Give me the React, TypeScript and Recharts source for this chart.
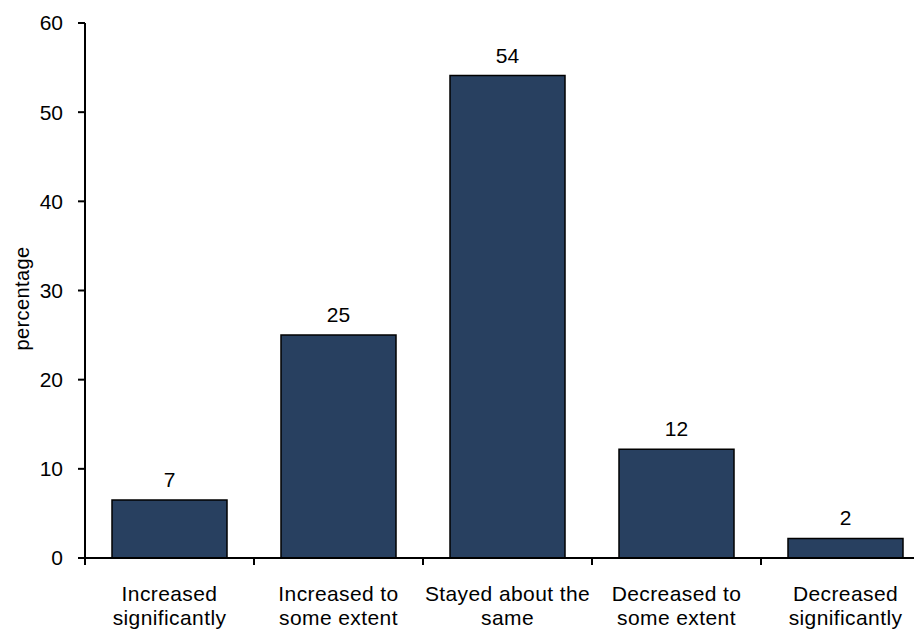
import React from 'react';
import { BarChart, Bar, XAxis, YAxis, LabelList } from 'recharts';

const CATEGORIES = [
  ['Increased', 'significantly'],
  ['Increased to', 'some extent'],
  ['Stayed about the', 'same'],
  ['Decreased to', 'some extent'],
  ['Decreased', 'significantly'],
];
const PERCENTAGES = [6.5, 25, 54.1, 12.2, 2.2];
const Y_TICKS = [0, 10, 20, 30, 40, 50, 60];

const CHART_W = 922;
const CHART_H = 622;
const Y_AXIS_W = 77;
const BAND = (CHART_W - Y_AXIS_W) / CATEGORIES.length;
const FONT = '"Liberation Sans", Arial, sans-serif';

const data = CATEGORIES.map((c, i) => ({ name: c.join('|'), value: PERCENTAGES[i] }));

const CategoryTick = (props: any) => {
  const { x, y, payload } = props;
  const lines = String(payload.value).split('|');
  const left = x - BAND / 2;
  return (
    <g>
      <line x1={left} y1={y} x2={left} y2={y + 7} stroke="#000" strokeWidth={2} />
      <text
        x={x}
        y={y + 43}
        textAnchor="middle"
        fill="#000"
        fontSize={21}
        letterSpacing={0.4}
        fontFamily={FONT}
      >
        {lines.map((l, i) => (
          <tspan key={i} x={x} dy={i === 0 ? 0 : 24}>
            {l}
          </tspan>
        ))}
      </text>
    </g>
  );
};

// rotated axis title, a little below the plot centre like the original
const YTitle = (props: any) => {
  const { viewBox } = props;
  const cx = viewBox.x + 14;
  const cy = viewBox.y + viewBox.height / 2 + 8;
  return (
    <text
      x={cx}
      y={cy}
      transform={`rotate(-90, ${cx}, ${cy})`}
      textAnchor="middle"
      dominantBaseline="central"
      fill="#000"
      fontSize={20}
      letterSpacing={0.4}
      fontFamily={FONT}
    >
      percentage
    </text>
  );
};

export default function App() {
  return (
    <div style={{ width: 914, overflow: 'hidden', fontFamily: FONT }}>
      <BarChart
        width={CHART_W}
        height={CHART_H}
        data={data}
        margin={{ top: 15, right: 0, bottom: 0, left: 0 }}
      >
        <XAxis
          dataKey="name"
          height={72}
          interval={0}
          tickSize={0}
          tickMargin={0}
          tickLine={false}
          axisLine={{ stroke: '#000', strokeWidth: 2 }}
          tick={<CategoryTick />}
        />
        <YAxis
          width={Y_AXIS_W}
          domain={[0, 60]}
          ticks={Y_TICKS}
          interval={0}
          tickSize={7}
          tickMargin={15}
          axisLine={{ stroke: '#000', strokeWidth: 2 }}
          tickLine={{ stroke: '#000', strokeWidth: 2 }}
          tick={{ fill: '#000', fontSize: 21, fontFamily: FONT }}
          label={<YTitle />}
        />
        <Bar
          dataKey="value"
          barSize={115}
          fill="#284060"
          stroke="#000"
          strokeWidth={1.5}
          isAnimationActive={false}
        >
          <LabelList
            dataKey="value"
            position="top"
            offset={13}
            formatter={(v: any) => Math.round(Number(v))}
            fill="#000"
            fontSize={21}
            fontFamily={FONT}
          />
        </Bar>
      </BarChart>
    </div>
  );
}
